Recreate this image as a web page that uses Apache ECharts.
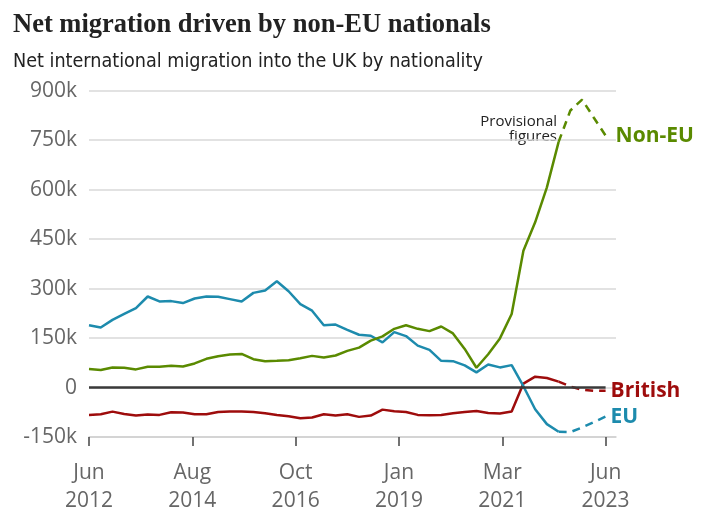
<!DOCTYPE html>
<html><head><meta charset="utf-8">
<script src="https://cdn.jsdelivr.net/npm/echarts@6/dist/echarts.min.js"></script>
<style>html,body{margin:0;padding:0;background:#fff}#c{width:704px;height:509px}</style>
</head><body><div id="c"></div>
<script>
// Year ending (quarterly)
const periods = ['Jun 2012','Sep 2012','Dec 2012','Mar 2013','Jun 2013','Sep 2013','Dec 2013','Mar 2014','Jun 2014','Sep 2014','Dec 2014','Mar 2015','Jun 2015','Sep 2015','Dec 2015','Mar 2016','Jun 2016','Sep 2016','Dec 2016','Mar 2017','Jun 2017','Sep 2017','Dec 2017','Mar 2018','Jun 2018','Sep 2018','Dec 2018','Mar 2019','Jun 2019','Sep 2019','Dec 2019','Mar 2020','Jun 2020','Sep 2020','Dec 2020','Mar 2021','Jun 2021','Sep 2021','Dec 2021','Mar 2022','Jun 2022','Sep 2022','Dec 2022','Mar 2023','Jun 2023'];
// thousands
const nonEu = [56,53,61,60,55,63,63,66,64,73,87,95,100,102,86,80,81,83,89,96,91,97,111,121,142,155,178,189,178,171,185,164,117,60,101,149,223,415,501,607,745,840,873,818,764];
const eu = [189,182,205,223,241,276,261,262,256,270,276,275,268,261,287,294,322,292,253,233,189,191,175,160,157,137,168,156,127,114,81,80,67,46,70,61,68,4,-66,-111,-134,-135,-121,-105,-88];
const british = [-83,-81,-73,-80,-85,-82,-83,-75,-76,-81,-81,-74,-73,-73,-74,-78,-83,-87,-93,-91,-81,-85,-81,-89,-85,-67,-72,-74,-83,-84,-83,-78,-74,-71,-77,-79,-73,12,33,29,18,3,-7,-10,-10];
const provisionalFrom = 'Jun 2022';
const xTickLabels = ['Jun\n2012','Aug\n2014','Oct\n2016','Jan\n2019','Mar\n2021','Jun\n2023'];
const yTicks = [-150,0,150,300,450,600,750,900];

const MONTHS = 132;                 // Jun 2012 -> Jun 2023
const tickStep = MONTHS / (xTickLabels.length - 1);
const xTickVals = xTickLabels.map((_, k) => k * tickStep);
const monthsOf = i => i * 3;
const provIdx = periods.indexOf(provisionalFrom);

const SANS = '"Open Sans","Noto Sans",sans-serif';
const cv = document.createElement('canvas').getContext('2d');
function fit(text, style, family, target, lo, hi) {
  cv.font = style + ' 100px ' + family;
  const s = 100 * target / cv.measureText(text).width;
  return Math.max(lo, Math.min(hi, s));
}
const titleText = 'Net migration driven by non-EU nationals';
const subText = 'Net international migration into the UK by nationality';
const titleFont = '"Liberation Serif",serif';
const subFont = '"DejaVu Sans Condensed","Liberation Sans Narrow","Roboto",sans-serif';
const titleSize = fit(titleText, 'bold', titleFont, 478, 22, 29);
const subSize = fit(subText, 'normal', subFont, 470, 19, 22);

const COLORS = { nonEu: '#5a8a00', british: '#9e0c0c', eu: '#1d8bad' };
function mk(name, arr, color, dashed, labelDist) {
  const pts = [];
  arr.forEach((v, i) => {
    if (dashed ? i >= provIdx : i <= provIdx) pts.push([monthsOf(i), v]);
  });
  const s = {
    name, type: 'line', data: pts, symbol: 'none', z: 3,
    lineStyle: { color, width: 2.5, type: dashed ? [8, 6] : 'solid', cap: 'butt' },
    itemStyle: { color }, silent: true, animation: false
  };
  if (dashed) {
    s.endLabel = { show: true, formatter: name, color, fontSize: 21, fontWeight: 'bold',
      fontFamily: SANS, distance: labelDist };
  }
  return s;
}

const chart = echarts.init(document.getElementById('c'), null, { renderer: 'canvas' });
chart.setOption({
  animation: false,
  grid: { left: 89, right: 88, top: 90.7, bottom: 72, outerBoundsMode: 'none', containLabel: false },
  xAxis: {
    type: 'value', min: 0, max: MONTHS + 2.66,
    axisLine: { onZero: false, lineStyle: { color: '#d0d0d0', width: 1.5 } },
    axisTick: { show: true, customValues: xTickVals, length: 9, lineStyle: { color: '#444', width: 1.5 } },
    axisLabel: { customValues: xTickVals, formatter: v => xTickLabels[Math.round(v / tickStep)],
      color: '#666', fontSize: 21, lineHeight: 28, margin: 22, fontFamily: SANS },
    splitLine: { show: false }
  },
  yAxis: {
    type: 'value', min: yTicks[0], max: yTicks[yTicks.length - 1], interval: 150,
    axisLine: { show: false }, axisTick: { show: false },
    axisLabel: { formatter: v => v === 0 ? '0' : v + 'k', color: '#666', fontSize: 21, margin: 12, fontFamily: SANS },
    splitLine: { lineStyle: { color: '#d8d8d8', width: 1.5 } }
  },
  graphic: [
    { type: 'text', x: 13, y: 25, style: { text: titleText, fill: '#222', verticalAlign: 'middle',
      font: 'bold ' + titleSize.toFixed(1) + 'px ' + titleFont } },
    { type: 'text', x: 13, y: 62, style: { text: subText, fill: '#222', verticalAlign: 'middle',
      font: subSize.toFixed(1) + 'px ' + subFont } },
    { type: 'text', x: 557, y: 129, style: { text: 'Provisional\nfigures', fill: '#222', align: 'right',
      verticalAlign: 'middle', font: '15px ' + SANS, lineHeight: 15 } }
  ],
  series: [
    { type: 'line', data: [], z: 1, silent: true,
      markLine: { silent: true, symbol: 'none', label: { show: false },
        lineStyle: { color: '#3a3a3a', width: 2.5, type: 'solid' },
        data: [[{ coord: [0, 0] }, { coord: [MONTHS, 0] }]] } },
    mk('British', british, COLORS.british, false),
    mk('British', british, COLORS.british, true, 5),
    mk('EU', eu, COLORS.eu, false),
    mk('EU', eu, COLORS.eu, true, 5),
    mk('Non-EU', nonEu, COLORS.nonEu, false),
    mk('Non-EU', nonEu, COLORS.nonEu, true, 10)
  ]
});
</script></body></html>
